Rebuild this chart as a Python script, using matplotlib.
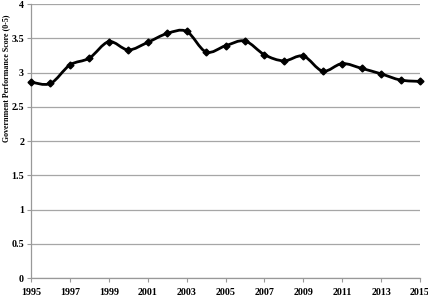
import numpy as np
import matplotlib
matplotlib.use("Agg")
import matplotlib.pyplot as plt
from matplotlib.path import Path
from matplotlib.patches import PathPatch

years = list(range(1995, 2016))
scores = [2.86, 2.84, 3.11, 3.21, 3.45, 3.33, 3.44, 3.57, 3.60, 3.30,
          3.39, 3.46, 3.26, 3.17, 3.24, 3.02, 3.13, 3.06, 2.98, 2.89, 2.87]
xtick_labels = [str(y) for y in range(1995, 2016, 2)]
ytick_vals = [0, 0.5, 1, 1.5, 2, 2.5, 3, 3.5, 4]
ytick_labels = ["0", "0.5", "1", "1.5", "2", "2.5", "3", "3.5", "4"]
ylabel = "Government Performance Score (0-5)"

plt.rcParams['font.family'] = ['Liberation Serif', 'DejaVu Serif']
plt.rcParams['font.weight'] = 'bold'

W, H = 428, 301
fig = plt.figure(figsize=(W/100, H/100), dpi=100)
ax = fig.add_axes([31/W, 1-278/H, (420-31)/W, (278-4)/H])

# smoothed line (Catmull-Rom -> cubic Bezier through the data points)
x = np.array(years, dtype=float)
y = np.array(scores, dtype=float)
verts = [(x[0], y[0])]
codes = [Path.MOVETO]
n = len(x)
for i in range(n - 1):
    p0 = (x[i-1], y[i-1]) if i > 0 else (x[i], y[i])
    p1 = (x[i], y[i])
    p2 = (x[i+1], y[i+1])
    p3 = (x[i+2], y[i+2]) if i + 2 < n else (x[i+1], y[i+1])
    t = 1/6
    c1 = (p1[0] + (p2[0]-p0[0])*t, p1[1] + (p2[1]-p0[1])*t)
    c2 = (p2[0] - (p3[0]-p1[0])*t, p2[1] - (p3[1]-p1[1])*t)
    verts += [c1, c2, p2]
    codes += [Path.CURVE4]*3
patch = PathPatch(Path(verts, codes), facecolor='none', edgecolor='black',
                  lw=2.0, zorder=3, capstyle='round', joinstyle='round')
patch.set_clip_on(False)
ax.add_patch(patch)
ax.plot(years, scores, linestyle='none', marker='D', markersize=3.5,
        color='black', zorder=4, clip_on=False)

ax.set_xlim(1995, 2015)
ax.set_ylim(0, 4)
ax.set_xticks(range(1995, 2016, 2))
ax.set_xticklabels(xtick_labels, fontsize=7.2, fontweight='bold')
ax.set_yticks(ytick_vals)
ax.set_yticklabels(ytick_labels, fontsize=7.2, fontweight='bold')
ax.grid(axis='y', color='#a6a6a6', lw=0.9)
ax.set_axisbelow(True)
for s in ['top', 'right']:
    ax.spines[s].set_visible(False)
for s in ['left', 'bottom']:
    ax.spines[s].set_color('#999999')
    ax.spines[s].set_linewidth(0.9)
ax.tick_params(axis='both', colors='#999999', length=3, width=0.8, pad=2,
               labelcolor='black')
ax.tick_params(axis='x', pad=4)
fig.text(6/W, 1-78/H, ylabel, rotation=90, ha='center', va='center',
         fontsize=5.7, fontweight='bold')

fig.savefig("out.png", dpi=100)
